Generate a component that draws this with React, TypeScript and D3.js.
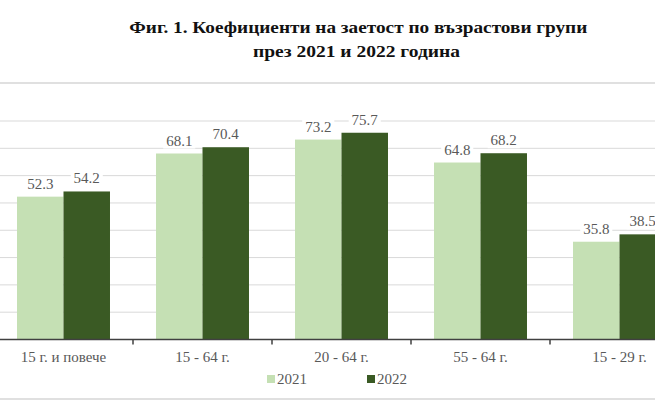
import React from "react";
import * as d3 from "d3";

const categories = ["15 г. и повече", "15 - 64 г.", "20 - 64 г.", "55 - 64 г.", "15 - 29 г."];
const series = ["2021", "2022"];
const values2021 = [52.3, 68.1, 73.2, 64.8, 35.8];
const values2022 = [54.2, 70.4, 75.7, 68.2, 38.5];
const gridTicks = [10, 20, 30, 40, 50, 60, 70, 80];
const titleLines = ["Фиг. 1. Коефициенти на заетост по възрастови групи", "през 2021 и 2022 година"];

const W = 655;
const H = 402;
const colors = ["#c5e0b4", "#3a5a24"];
const fontStyle = { fontFamily: "'Liberation Serif', 'Times New Roman', serif" };

export default function App() {
  const x = d3.scaleBand<string>().domain(categories).range([-6, 689]).padding(0);
  const xs = d3.scaleBand<string>().domain(series).range([0, x.bandwidth()]).paddingInner(0).paddingOuter(0.495);
  const y = d3.scaleLinear().domain([0, 80]).range([339.5, 121]);
  const data = [values2021, values2022];

  const labelW = (v: number) => v.toFixed(1).length * 7.4 - 3.5;
  const titleLayout = [
    { cx: 358.3, y: 33.3, len: 458 },
    { cx: 356.5, y: 57, len: 207 },
  ];

  return (
    <div style={{ position: "fixed", left: 0, top: 0, width: W, height: H, background: "#fff" }}>
      <svg width={W} height={H} style={{ display: "block", overflow: "hidden", ...fontStyle }}>
        <rect x={0} y={0} width={W} height={H} fill="#fff" />
        {titleLines.map((t, i) => (
          <text
            key={i}
            x={titleLayout[i].cx - titleLayout[i].len / 2}
            y={titleLayout[i].y}
            textLength={titleLayout[i].len}
            lengthAdjust="spacingAndGlyphs"
            fontWeight="bold"
            fontSize={17.5}
            fill="#111"
            style={fontStyle}
          >
            {t}
          </text>
        ))}
        <line x1={0} x2={W} y1={83} y2={83} stroke="#d6d6d6" strokeWidth={1.5} />
        <line x1={0} x2={W} y1={399} y2={399} stroke="#d6d6d6" strokeWidth={1.5} />
        {gridTicks.map((t) => (
          <line key={t} x1={0} x2={W} y1={y(t)} y2={y(t)} stroke="#d9d9d9" strokeWidth={1} />
        ))}
        {categories.map((c, ci) => (
          <g key={c} transform={`translate(${x(c)},0)`}>
            {series.map((s, si) => {
              const v = data[si][ci];
              const bx = xs(s)!;
              const bw = xs.bandwidth();
              const lw = labelW(v);
              const cx = bx + bw / 2;
              const ly = y(v) - 8;
              return (
                <g key={s}>
                  <rect x={bx} y={y(v)} width={bw} height={y(0) - y(v)} fill={colors[si]} />
                  <rect x={cx - lw / 2 - 3} y={ly - 12} width={lw + 6} height={15} fill="#fff" />
                  <text x={cx} y={ly} textAnchor="middle" fontSize={15} fill="#595959" style={fontStyle}>
                    {v.toFixed(1)}
                  </text>
                </g>
              );
            })}
            <text x={x.bandwidth() / 2} y={362} textAnchor="middle" fontSize={15} fill="#595959" style={fontStyle}>
              {c}
            </text>
          </g>
        ))}
        <line x1={0} x2={W} y1={y(0)} y2={y(0)} stroke="#404040" strokeWidth={1.5} />
        {categories.map((c, i) =>
          i === 0 ? null : (
            <line key={c} x1={x(c)!} x2={x(c)!} y1={y(0)} y2={y(0) + 5} stroke="#404040" strokeWidth={1.5} />
          )
        )}
        {series.map((s, i) => (
          <g key={s} transform={`translate(${[267, 367][i]},0)`}>
            <rect x={0} y={375} width={8} height={8} fill={colors[i]} />
            <text x={10} y={384} fontSize={15} fill="#595959" style={fontStyle}>
              {s}
            </text>
          </g>
        ))}
      </svg>
    </div>
  );
}
